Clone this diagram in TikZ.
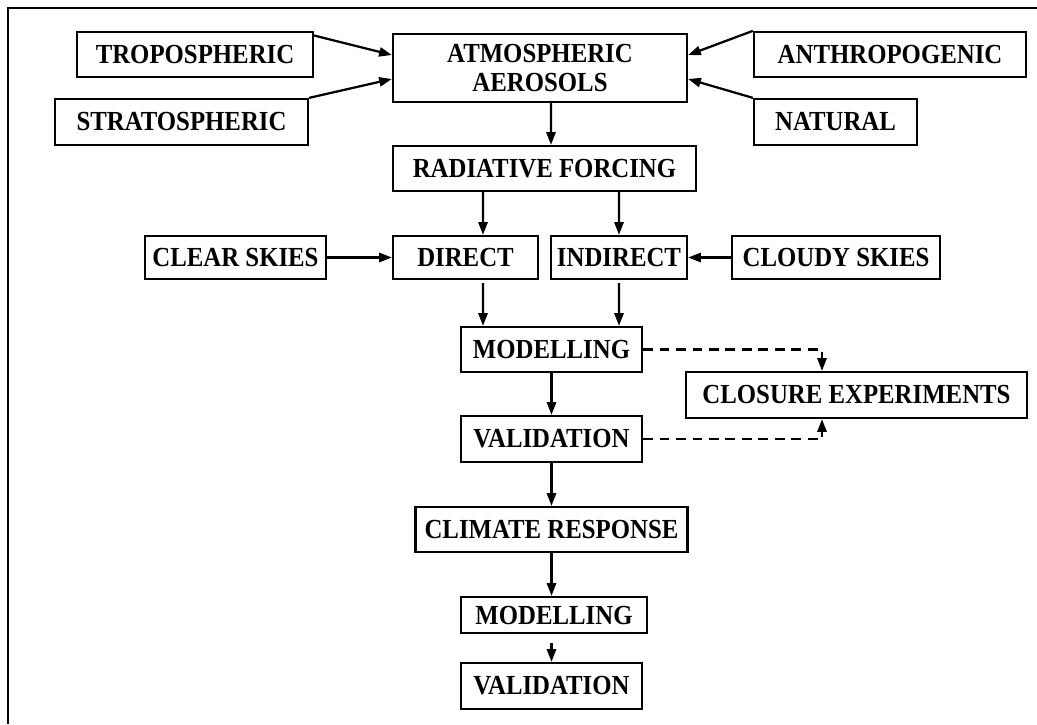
\documentclass[tikz,border=0pt]{standalone}
\usepackage{fontspec}
\setmainfont{Liberation Serif}[FakeStretch=0.9]
\usetikzlibrary{positioning,calc,arrows.meta}

\begin{document}
\begin{tikzpicture}[x=0.025cm, y=-0.025cm, line width=1.6pt,
    box/.style={rectangle, draw, inner sep=0pt, align=center, font=\fontsize{19.6}{21.3}\selectfont\bfseries},
    arr/.style={-{Triangle[length=9pt,width=6.5pt]}},
    dsh/.style={arr, dash pattern=on 7pt off 4.7pt}]
    \useasboundingbox (0,0) rectangle (1037,724);
    \draw (8,724) -- (8,8) -- (1037,8);

    \node [box, minimum width=5.9cm, minimum height=1.125cm] (tropo) at (195,54.5) {TROPOSPHERIC};
    \node [box, minimum width=6.325cm, minimum height=1.15cm] (strato) at (181.5,122) {STRATOSPHERIC};
    \node [box, minimum width=7.35cm, minimum height=1.7cm] (atmos) at (540,68) {ATMOSPHERIC\\AEROSOLS};
    \node [box, minimum width=6.8cm, minimum height=1.125cm] (anthro) at (890,54.5) {ANTHROPOGENIC};
    \node [box, minimum width=4.075cm, minimum height=1.15cm] (natural) at (835.5,122) {NATURAL};
    \node [box, minimum width=7.575cm, minimum height=1.125cm] (rad) at (544.5,168.5) {RADIATIVE FORCING};
    \node [box, minimum width=4.525cm, minimum height=1.075cm] (clear) at (235.5,257.5) {CLEAR SKIES};
    \node [box, minimum width=3.625cm, minimum height=1.075cm] (direct) at (465.5,257.5) {DIRECT};
    \node [box, minimum width=3.4cm, minimum height=1.075cm] (indirect) at (619,257.5) {INDIRECT};
    \node [box, minimum width=5.2cm, minimum height=1.075cm] (cloudy) at (836,257.5) {CLOUDY SKIES};
    \node [box, minimum width=4.525cm, minimum height=1.125cm] (model1) at (551.5,349.5) {MODELLING};
    \node [box, minimum width=4.525cm, minimum height=1.15cm] (valid1) at (551.5,439) {VALIDATION};
    \node [box, minimum width=8.525cm, minimum height=1.15cm] (closure) at (856.5,395) {CLOSURE EXPERIMENTS};
    \node [box, minimum width=6.8cm, minimum height=1.125cm] (climate) at (551.5,529.5) {CLIMATE RESPONSE};
    \node [box, minimum width=4.65cm, minimum height=0.9cm] (model2) at (554,615) {MODELLING};
    \node [box, minimum width=4.525cm, minimum height=1.15cm] (valid2) at (551.5,686) {VALIDATION};

    \draw [arr] ($(tropo.east)+(0,-19)$) -- ($(atmos.west)+(0,-13)$);
    \draw [arr] (strato.north east) -- ($(atmos.west)+(0,11)$);
    \draw [arr] (anthro.north west) -- ($(atmos.east)+(0,-13)$);
    \draw [arr] (natural.north west) -- ($(atmos.east)+(0,11)$);
    \draw [arr] ($(atmos.south)+(11,0)$) -- ($(rad.north)+(6.5,0)$);
    \draw [arr] ($(rad.south)+(-61.5,0)$) -- ($(direct.north)+(17.5,0)$);
    \draw [arr] ($(rad.south)+(74.5,0)$) -- (indirect.north);
    \draw [arr] (clear) -- (direct);
    \draw [arr] (cloudy) -- (indirect);
    \draw [arr] ($(direct.south)+(17.5,3)$) -- ($(model1.north)+(-68.5,0)$);
    \draw [arr] ($(indirect.south)+(0,3)$) -- ($(model1.north)+(67.5,0)$);
    \draw [arr] (model1) -- (valid1);
    \draw [dsh] (model1.east) -| ($(closure.north)+(-34.5,0)$);
    \draw [dsh] (valid1.east) -| ($(closure.south)+(-34.5,0)$);
    \draw [arr] (valid1) -- (climate);
    \draw [arr] (climate.south) -- (climate.south |- model2.north);
    \draw [arr, shorten <=0.225cm] (model2.south -| valid2.north) -- (valid2.north);
\end{tikzpicture}
\end{document}
